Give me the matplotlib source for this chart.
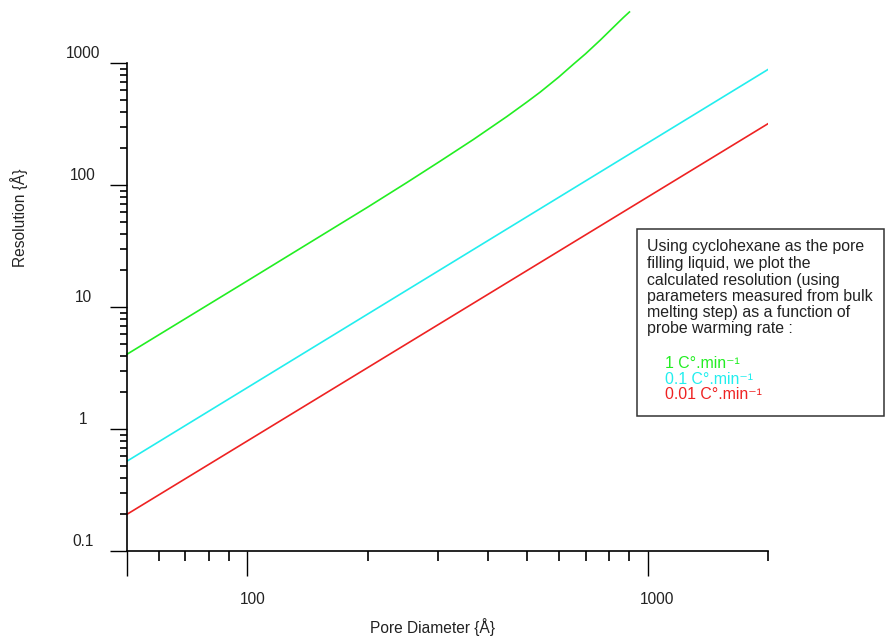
import matplotlib
matplotlib.use("Agg")
import matplotlib.pyplot as plt
import matplotlib.patches as patches
from matplotlib.ticker import FixedLocator, LogLocator, NullFormatter
import matplotlib.transforms as mtrans

plt.rcParams['font.family'] = ['Liberation Sans', 'DejaVu Sans']

# ---- data ----
x_red = [50, 2000]
y_red = [0.2, 318]
x_cyan = [50, 2000]
y_cyan = [0.545, 885]
x_green = [50, 100, 200, 250, 303, 367, 445, 500, 539, 600, 653, 700, 762, 824, 870, 901]
y_green = [4.1, 16.4, 66, 104.5, 156.6, 236, 364, 480, 577, 767, 979, 1190, 1542, 1982, 2358, 2620]

xtick_major = [50, 100, 1000]
xtick_labels = ['', '100', '1000']
ytick_major = [0.1, 1, 10, 100, 1000]
ytick_labels = ['0.1', '1', '10', '100', '1000']

legend_labels = ['1 C°.min⁻¹', '0.1 C°.min⁻¹', '0.01 C°.min⁻¹']
legend_colors = ['#22ee22', '#22eeee', '#ee2222']
note_lines = ['Using cyclohexane as the pore',
              'filling liquid, we plot the',
              'calculated resolution (using',
              'parameters measured from bulk',
              'melting step) as a function of',
              'probe warming rate :']

W, H = 886, 640
fig = plt.figure(figsize=(W / 100, H / 100), dpi=100)
ax = fig.add_axes([127 / W, (H - 551) / H, 641 / W, (551 - 63) / H])
ax.set_xscale('log')
ax.set_yscale('log')
ax.set_xlim(50, 2000)
ax.set_ylim(0.1, 1000)

ax.plot(x_green, y_green, color=legend_colors[0], lw=1.2, clip_on=False)
ax.plot(x_cyan, y_cyan, color=legend_colors[1], lw=1.2)
ax.plot(x_red, y_red, color=legend_colors[2], lw=1.2)

for s in ['top', 'right']:
    ax.spines[s].set_visible(False)
for s in ['left', 'bottom']:
    ax.spines[s].set_linewidth(1.2)

ax.xaxis.set_major_locator(FixedLocator(xtick_major))
ax.xaxis.set_minor_locator(LogLocator(base=10, subs=range(2, 10)))
ax.yaxis.set_major_locator(FixedLocator(ytick_major))
ax.yaxis.set_minor_locator(LogLocator(base=10, subs=range(2, 10)))
ax.xaxis.set_major_formatter(NullFormatter())
ax.xaxis.set_minor_formatter(NullFormatter())
ax.yaxis.set_major_formatter(NullFormatter())
ax.yaxis.set_minor_formatter(NullFormatter())

ax.tick_params(axis='x', which='major', direction='out', length=18, width=1.0)
ax.tick_params(axis='x', which='minor', direction='out', length=7.2, width=1.2)
ax.tick_params(axis='y', which='major', direction='out', length=12.2, width=1.0)
ax.tick_params(axis='y', which='minor', direction='out', length=5, width=1.2)

# tick labels placed like the reference
xt = mtrans.blended_transform_factory(ax.transData, ax.transAxes)
for v, lab in zip(xtick_major, xtick_labels):
    if lab:
        ax.annotate(lab, xy=(v, 0), xycoords=xt, xytext=(-8, -48),
                    textcoords='offset pixels', ha='left', va='center',
                    fontsize=11.2, color='#222222')
yt = mtrans.blended_transform_factory(ax.transAxes, ax.transData)
for v, lab in zip(ytick_major, ytick_labels):
    ax.annotate(lab, xy=(0, v), xycoords=yt, xytext=(-44, 9),
                textcoords='offset pixels', ha='center', va='center',
                fontsize=11.2, color='#222222')

fig.text(432 / W, 1 - 627 / H, 'Pore Diameter {Å}', ha='center', va='center',
         fontsize=11.2, color='#222222')
fig.text(19 / W, 1 - 218 / H, 'Resolution {Å}', ha='center', va='center',
         rotation=90, fontsize=11.2, color='#222222')

# annotation box
rect = patches.Rectangle((637 / W, (H - 416) / H), (884 - 637) / W, (416 - 229) / H,
                         transform=fig.transFigure, fill=False,
                         ec='#333333', lw=1.1)
fig.patches.append(rect)
line_y = [247, 263.5, 280, 296, 312, 328.5]
for yy, t in zip(line_y, note_lines):
    fig.text(647 / W, 1 - yy / H, t, ha='left', va='center', fontsize=11.4,
             color='#222222')
leg_y = [363, 379, 394.5]
for yy, t, c in zip(leg_y, legend_labels, legend_colors):
    fig.text(665 / W, 1 - yy / H, t, ha='left', va='center', fontsize=11.4,
             color=c)

fig.savefig('out.png', dpi=100)
